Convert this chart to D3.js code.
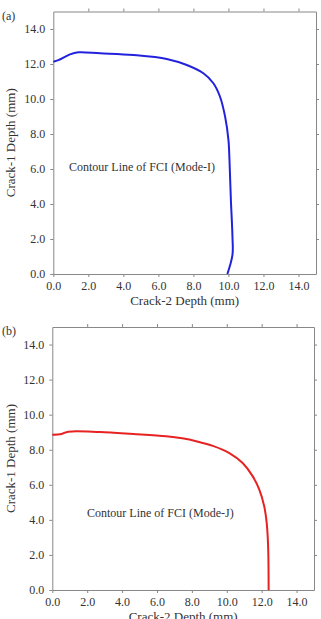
<!DOCTYPE html>
<html>
<head>
<meta charset="utf-8">
<script src="https://cdn.jsdelivr.net/npm/d3@7"></script>
<style>
  body { margin: 0; background: #fff; }
  svg text { font-family: "Liberation Serif", "DejaVu Serif", serif; fill: #333; }
  .axis path, .axis line { stroke: #888; }
</style>
</head>
<body>
<svg id="chart" width="321" height="619"></svg>
<script>
// Mode-I contour (panel a): crack-2 depth vs crack-1 depth, mm
var crack2A = [0, 0.29, 0.95, 1.43, 2.67, 4.57, 6.48, 7.62, 8.57, 9.14, 9.52, 9.81, 10.0, 10.06, 10.14, 10.23, 10.23, 9.94];
var crack1A = [12.13, 12.22, 12.55, 12.67, 12.61, 12.51, 12.29, 11.94, 11.47, 10.9, 10.13, 8.99, 7.66, 6.51, 4.23, 2.13, 1.09, 0];
// Mode-J contour (panel b)
var crack2B = [0, 0.53, 0.91, 2.73, 4.63, 6.53, 7.45, 8.3, 9.2, 10.15, 10.91, 11.49, 11.87, 12.15, 12.29, 12.37, 12.4];
var crack1B = [8.86, 8.9, 9.03, 9.01, 8.9, 8.77, 8.65, 8.47, 8.22, 7.81, 7.24, 6.48, 5.71, 4.76, 3.81, 2.5, 0];
var tickVals = [0, 2, 4, 6, 8, 10, 12, 14];
var panels = [
  { tag: "(a)", label: "Contour Line of FCI (Mode-I)", xs: crack2A, ys: crack1A, color: "#2222dd",
    left: 53.3, right: 316, top: 11.5, bottom: 274, lx: 69, ly: 171 },
  { tag: "(b)", label: "Contour Line of FCI (Mode-J)", xs: crack2B, ys: crack1B, color: "#e62222",
    left: 52.3, right: 314, top: 327, bottom: 590, lx: 87, ly: 517 }
];

var svg = d3.select("#chart");

panels.forEach(function (p) {
  var x = d3.scaleLinear().domain([0, 15]).range([p.left, p.right]);
  var y = d3.scaleLinear().domain([0, 15]).range([p.bottom, p.top]);
  var g = svg.append("g");
  var fmt = d3.format(".1f");

  g.append("g").attr("class", "axis").attr("transform", "translate(0," + p.bottom + ")")
    .call(d3.axisBottom(x).tickValues(tickVals).tickFormat(fmt).tickSize(3).tickSizeOuter(0).tickPadding(4))
    .call(function (s) { s.selectAll("text").attr("font-size", 12).style("font-family", null); });
  g.append("g").attr("class", "axis").attr("transform", "translate(" + p.left + ",0)")
    .call(d3.axisLeft(y).tickValues(tickVals).tickFormat(fmt).tickSize(3).tickSizeOuter(0).tickPadding(5))
    .call(function (s) { s.selectAll("text").attr("font-size", 12).style("font-family", null); });
  g.append("g").attr("class", "axis").attr("transform", "translate(0," + p.top + ")")
    .call(d3.axisTop(x).tickValues(tickVals.slice(1)).tickFormat("").tickSize(3).tickSizeOuter(0));
  g.append("g").attr("class", "axis").attr("transform", "translate(" + p.right + ",0)")
    .call(d3.axisRight(y).tickValues(tickVals.slice(1)).tickFormat("").tickSize(3).tickSizeOuter(0));
  g.selectAll(".axis text").attr("fill", "#333");
  g.selectAll(".axis path").attr("stroke", "#888");
  g.selectAll(".axis line").attr("stroke", "#888");

  var pts = p.xs.map(function (v, i) { return [v, p.ys[i]]; });
  var line = d3.line().x(function (d) { return x(d[0]); }).y(function (d) { return y(d[1]); })
    .curve(d3.curveCatmullRom.alpha(0.5));
  g.append("path").datum(pts).attr("d", line).attr("fill", "none")
    .attr("stroke", p.color).attr("stroke-width", 2);

  g.append("text").attr("x", p.lx).attr("y", p.ly).attr("font-size", 12).text(p.label);
  g.append("text").attr("x", 2).attr("y", p.top + 8).attr("font-size", 12).text(p.tag);
  g.append("text").attr("x", (p.left + p.right) / 2).attr("y", p.bottom + 31)
    .attr("text-anchor", "middle").attr("font-size", 13).text("Crack-2 Depth (mm)");
  g.append("text").attr("transform", "translate(15," + ((p.top + p.bottom) / 2) + ") rotate(-90)")
    .attr("text-anchor", "middle").attr("font-size", 13).text("Crack-1 Depth (mm)");
});
</script>
</body>
</html>
